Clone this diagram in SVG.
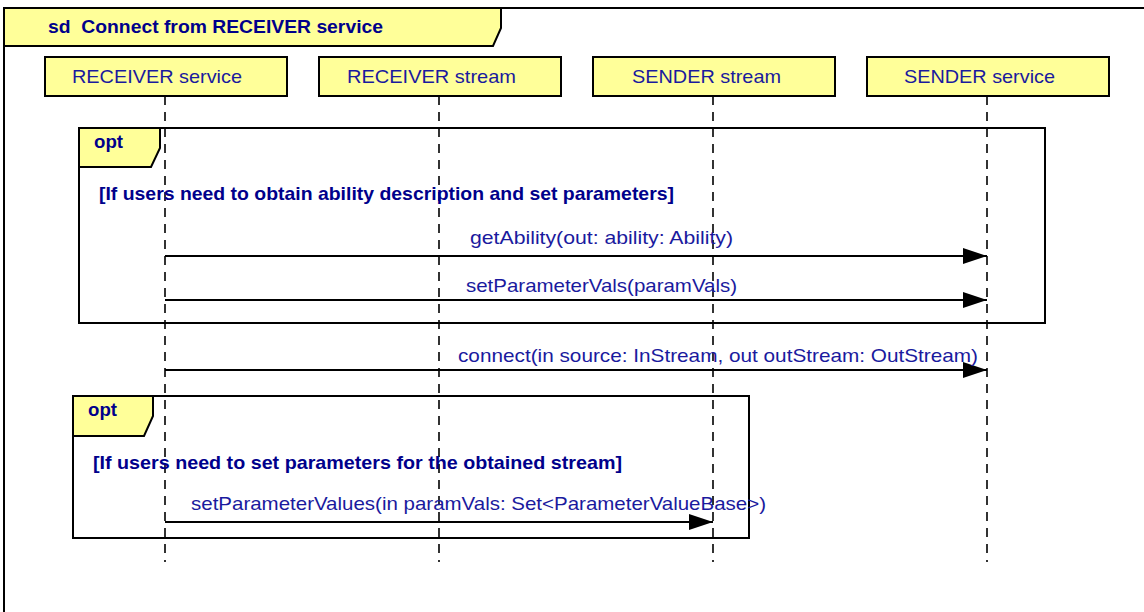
<svg xmlns="http://www.w3.org/2000/svg" width="1144" height="612" viewBox="0 0 1144 612">
<style>
.frame{fill:none;stroke:#000;stroke-width:2}
.tag{fill:#ffff99;stroke:#000;stroke-width:2}
.box{fill:#ffff99;stroke:#000;stroke-width:2}
.life{stroke:#000;stroke-width:1.6;stroke-dasharray:9,7;fill:none}
.msg{stroke:#000;stroke-width:2;fill:none}
.bold{font-family:"Liberation Sans",Arial,sans-serif;font-weight:bold;font-size:19px;fill:#00008b}
.lbl{font-family:"Liberation Sans",Arial,sans-serif;font-size:19px;fill:#1a1a9e}
</style>
<defs>
<marker id="arr" markerWidth="24" markerHeight="18" refX="24" refY="9" orient="auto" markerUnits="userSpaceOnUse">
<path d="M0,1 L24,9 L0,17 Z" fill="#000"/>
</marker>
</defs>
<rect width="1144" height="612" fill="#fff"/>
<g id="frame">
<path d="M4,620 L4,8 L1150,8" class="frame"/>
<path d="M4,8 L501,8 L501,28 L493,46 L4,46 Z" class="tag"/>
<text x="48" y="33" class="bold" textLength="335" lengthAdjust="spacingAndGlyphs">sd&#160; Connect from RECEIVER service</text>
</g>
<g id="lifelines">
<line x1="165" y1="96" x2="165" y2="562" class="life"/>
<line x1="439" y1="96" x2="439" y2="562" class="life"/>
<line x1="713" y1="96" x2="713" y2="562" class="life"/>
<line x1="987" y1="96" x2="987" y2="562" class="life"/>
</g>
<g id="receiver-service">
<rect x="45" y="57" width="242" height="39" class="box"/>
<text x="72" y="83" class="lbl" textLength="170" lengthAdjust="spacingAndGlyphs">RECEIVER service</text>
</g>
<g id="receiver-stream">
<rect x="319" y="57" width="242" height="39" class="box"/>
<text x="347" y="83" class="lbl" textLength="169" lengthAdjust="spacingAndGlyphs">RECEIVER stream</text>
</g>
<g id="sender-stream">
<rect x="593" y="57" width="242" height="39" class="box"/>
<text x="632" y="83" class="lbl" textLength="149" lengthAdjust="spacingAndGlyphs">SENDER stream</text>
</g>
<g id="sender-service">
<rect x="867" y="57" width="242" height="39" class="box"/>
<text x="904" y="83" class="lbl" textLength="151" lengthAdjust="spacingAndGlyphs">SENDER service</text>
</g>
<g id="opt1">
<rect x="79" y="128" width="966" height="195" class="frame"/>
<path d="M79,128 L160,128 L160,148 L151,167 L79,167 Z" class="tag"/>
<text x="94" y="148" class="bold" textLength="29" lengthAdjust="spacingAndGlyphs">opt</text>
<text x="99" y="200" class="bold" textLength="575" lengthAdjust="spacingAndGlyphs">[If users need to obtain ability description and set parameters]</text>
</g>
<g id="opt2">
<rect x="73" y="396" width="676" height="142" class="frame"/>
<path d="M73,396 L153,396 L153,416 L144,436 L73,436 Z" class="tag"/>
<text x="88" y="416" class="bold" textLength="29" lengthAdjust="spacingAndGlyphs">opt</text>
<text x="93" y="469" class="bold" textLength="529" lengthAdjust="spacingAndGlyphs">[If users need to set parameters for the obtained stream]</text>
</g>
<g id="connectors">
<line x1="165" y1="256" x2="987" y2="256" class="msg" marker-end="url(#arr)"/>
<text x="470" y="244" class="lbl" textLength="263" lengthAdjust="spacingAndGlyphs">getAbility(out: ability: Ability)</text>
<line x1="165" y1="300" x2="987" y2="300" class="msg" marker-end="url(#arr)"/>
<text x="466" y="292" class="lbl" textLength="271" lengthAdjust="spacingAndGlyphs">setParameterVals(paramVals)</text>
<line x1="165" y1="370" x2="987" y2="370" class="msg" marker-end="url(#arr)"/>
<text x="458" y="362" class="lbl" textLength="520" lengthAdjust="spacingAndGlyphs">connect(in source: InStream, out outStream: OutStream)</text>
<line x1="165" y1="522" x2="713" y2="522" class="msg" marker-end="url(#arr)"/>
<text x="191" y="510" class="lbl" textLength="575" lengthAdjust="spacingAndGlyphs">setParameterValues(in paramVals: Set&lt;ParameterValueBase&gt;)</text>
</g>
</svg>
